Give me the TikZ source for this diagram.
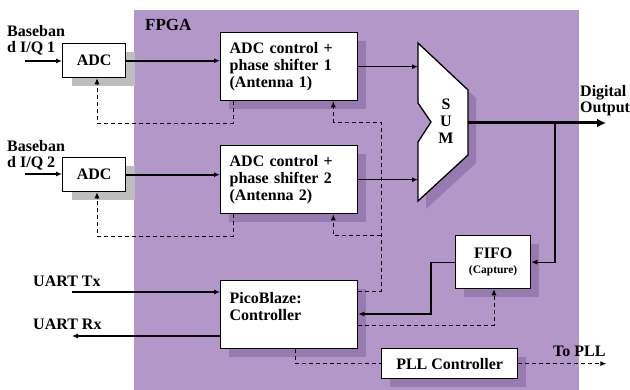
\documentclass[tikz,border=0pt]{standalone}
\usepackage{fontspec}
\setmainfont{Liberation Serif}
\usetikzlibrary{arrows.meta,shadows}
\definecolor{fpga}{RGB}{180,151,201}
\definecolor{fpgashade}{RGB}{150,122,176}
\definecolor{adcshade}{RGB}{190,190,190}

\begin{document}
\begin{tikzpicture}[x=1pt,y=-1pt,font=\fontsize{16}{17}\selectfont\bfseries,
  box/.style={rectangle,draw,line width=1.3pt,fill=white,anchor=north west,inner sep=0pt},
  inshade/.style={drop shadow={shadow xshift=8pt,shadow yshift=-8pt,fill=fpgashade,opacity=1}},
  outshade/.style={drop shadow={shadow xshift=9pt,shadow yshift=-8pt,fill=adcshade,opacity=1}},
  sig/.style={line width=1.1pt,-{Latex[length=6pt,width=5pt]}},
  ctl/.style={line width=0.9pt,dash pattern=on 4pt off 3pt},
  lbl/.style={anchor=base west,inner sep=0pt}]
\useasboundingbox (0,0) rectangle (630,390);
\fill[fpga] (134,10) rectangle (579,390);
\node[lbl,font=\fontsize{17}{17}\selectfont\bfseries] (fpgalbl) at (145,31) {FPGA};

% inputs
\node[lbl] (bbtext1) at (7,37) {Baseban};
\node[lbl] (bbtext1b) at (7,53) {d I/Q 1};
\node[lbl] (bbtext2) at (7,152) {Baseban};
\node[lbl] (bbtext2b) at (7,168) {d I/Q 2};
\node[lbl] (uarttxt) at (33,287) {UART Tx};
\node[lbl] (uartrxt) at (33,330) {UART Rx};

% blocks
\node[box,outshade,minimum width=63pt,minimum height=34pt] (adc1) at (62,43) {ADC};
\node[box,outshade,minimum width=63pt,minimum height=34pt] (adc2) at (62,157) {ADC};
\node[box,inshade,minimum width=137pt,minimum height=68pt,text width=119pt,align=left] (ctrl1) at (220,32)
  {ADC control +\\phase shifter 1\\(Antenna 1)};
\node[box,inshade,minimum width=137pt,minimum height=68pt,text width=119pt,align=left] (ctrl2) at (220,145)
  {ADC control +\\phase shifter 2\\(Antenna 2)};
\node[box,inshade,minimum width=137pt,minimum height=68pt,text width=119pt,align=left] (pico) at (220,280)
  {PicoBlaze:\\Controller\\\mbox{}};
\node[box,inshade,minimum width=75pt,minimum height=53pt,align=center] (fifo) at (455,235)
  {FIFO\\[-2pt]{\fontsize{11.5}{13}\selectfont (Capture)}};
\node[box,inshade,minimum width=136pt,minimum height=30pt] (pll) at (381,348) {PLL Controller};

% SUM
\fill[fpgashade] (426,51) -- (476,98) -- (476,163) -- (426,209) -- (426,150) -- (439,130) -- (426,111) -- cycle;
\draw[line width=1.3pt,fill=white] (418,43) coordinate (sumtl) -- (468,90) -- (468,155) -- (418,201)
  -- (418,142) -- (431,122) -- (418,103) -- cycle;
\node[align=center,inner sep=0pt] (sum) at (446,121) {S\\U\\M};
\coordinate (sumout) at (468,123);
\coordinate (tap) at (555,123);

% data paths
\coordinate (bb1) at (25,61);
\coordinate (bb2) at (25,174);
\draw[sig] (bb1) -- (bb1 -| adc1.west);
\draw[sig] (bb2) -- (bb2 -| adc2.west);
\draw[sig,line width=1.8pt] (adc1.east) -- (adc1.east -| ctrl1.west);
\draw[sig,line width=1.8pt] (adc2.east) -- (adc2.east -| ctrl2.west);
\draw[sig] (ctrl1.east) -- (ctrl1.east -| sumtl);
\draw[sig] (ctrl2.east) -- (ctrl2.east -| sumtl);
\coordinate (digout) at (606,123);
\draw[line width=3pt,-{Latex[length=9pt,width=9pt]}] (sumout) -- (digout);
\node[lbl] (digtxt) at (580,97) {Digital};
\node[lbl] (outtxt) at (580,113) {Output};
\draw[sig] (tap) |- (fifo.east);
\draw[sig] (fifo.west) -- ++(-24,0) |- ([yshift=-34pt]pico.north east);
\coordinate (uarttx) at (72,292);
\draw[sig] (uarttx) -- (uarttx -| pico.west);
\draw[sig] ([yshift=-56pt]pico.north west) -- ++(-148,0);

% control paths
\draw[ctl,-{Latex[length=6pt,width=5pt]}] ([xshift=13pt]ctrl1.south west) -- ++(0,22) -| ([xshift=35pt]adc1.south west);
\draw[ctl,-{Latex[length=6pt,width=5pt]}] ([xshift=13pt]ctrl2.south west) -- ++(0,22) -| ([xshift=35pt]adc2.south west);
\coordinate (bus) at (381,122);
\coordinate (branch) at (381,235);
\draw[ctl,-{Latex[length=6pt,width=5pt]}] ([yshift=-11pt]pico.north east) -| (bus) -| ([xshift=-25pt]ctrl1.south east);
\draw[ctl,-{Latex[length=6pt,width=5pt]}] (branch) -| ([xshift=-25pt]ctrl2.south east);
\draw[ctl,-{Latex[length=6pt,width=5pt]}] ([yshift=-45pt]pico.north east) -| ([xshift=39pt]fifo.south west);
\draw[ctl] ([xshift=75pt]pico.south west) |- (pll.west);
\draw[ctl,-{Latex[length=6pt,width=5pt]}] (pll.east) -- ++(88,0) coordinate (topll);
\node[lbl] (plltxt) at (553,357) {To PLL};
\end{tikzpicture}
\end{document}
